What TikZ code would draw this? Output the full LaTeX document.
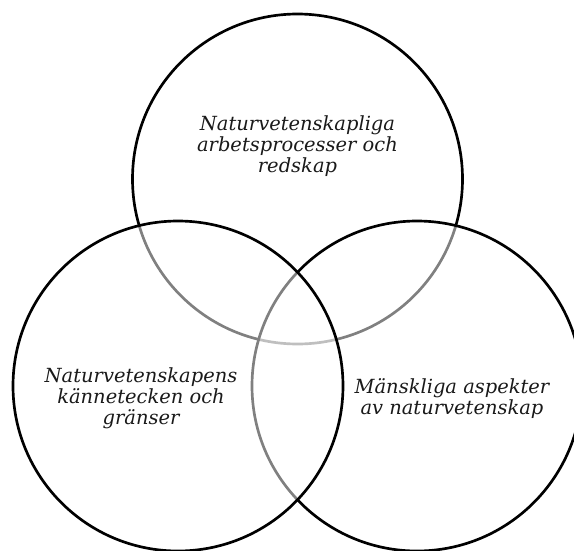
\documentclass[tikz,border=0pt]{standalone}
\usepackage{fontspec}
\setmainfont{DejaVu Serif}
\usepackage{tikz}
\usetikzlibrary{positioning}
\definecolor{vline}{HTML}{000000}
\definecolor{vtext}{HTML}{1A1A1A}
\tikzset{
  venn/.style={circle, draw=vline, line width=2pt, fill=white,
               fill opacity=0.5, minimum size=247.5pt, inner sep=0pt},
  lbl/.style={text=vtext, align=center, inner sep=0pt,
              font=\itshape\fontsize{14.6}{15.75}\selectfont},
}
\begin{document}
\begin{tikzpicture}[x=0.75pt, y=-0.75pt]
  \useasboundingbox (0,0) rectangle (574,550);

  % the three circles, each one pales what lies under it
  \node[venn] (arbete) at (297.5,179) {};
  \node[venn] (mansk) at (417,386) {};
  \node[venn] (kanne) at (178,386) {};

  \node[lbl] (arbetetxt) at (arbete.center) [yshift=25pt]
    {Naturvetenskapliga\\arbetsprocesser och\\redskap};
  \node[lbl] (kannetxt) at (141,398)
    {Naturvetenskapens\\kännetecken och\\gränser};
  \node[lbl] (mansktxt) at (452,398.5)
    {Mänskliga aspekter\\av naturvetenskap};
\end{tikzpicture}
\end{document}
